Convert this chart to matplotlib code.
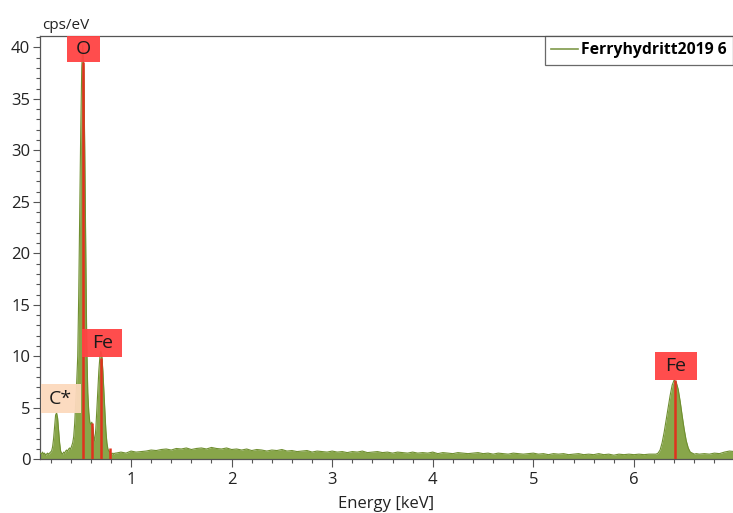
import numpy as np
import matplotlib
matplotlib.use("Agg")
import matplotlib.pyplot as plt
from matplotlib.patches import Rectangle
from matplotlib.lines import Line2D
from matplotlib.ticker import MultipleLocator

plt.rcParams['font.family'] = ['Open Sans', 'DejaVu Sans']

# --- spectrum: energy (keV) and intensity (cps/eV) ---
# low-energy region (C, O, Fe L), 0.01 keV channels
energy_low = np.round(np.arange(0.10, 0.845, 0.01), 2)
counts_low = [
    0.6, 0.5, 0.7, 0.5, 0.6, 0.4, 0.5, 0.6, 0.5, 0.6,      # 0.10-0.19
    0.7, 0.8, 1.2, 2.0, 3.2, 4.3, 4.5, 4.0, 2.8, 1.6,      # 0.20-0.29
    0.8, 0.6, 0.5, 0.7, 0.6, 0.8, 0.9, 0.8, 1.0, 1.1,      # 0.30-0.39
    1.0, 1.3, 1.6, 2.2, 3.5, 5.5, 7.5, 10.0, 16.0, 24.0,   # 0.40-0.49
    32.0, 38.0, 40.2, 38.0, 30.0, 20.0, 11.0, 6.5, 4.6, 3.6,  # 0.50-0.59
    3.4, 3.6, 3.1, 2.2, 1.8, 3.0, 4.8, 6.8, 8.6, 9.9,      # 0.60-0.69
    10.5, 10.0, 8.6, 6.6, 4.6, 2.8, 1.6, 1.0, 0.8, 0.7,    # 0.70-0.79
    0.6, 0.5, 0.6, 0.5, 0.6,                               # 0.80-0.84
]

# continuum, 0.05 keV channels
energy_mid = np.round(np.arange(0.85, 6.16, 0.05), 2)
counts_mid = [
    0.6, 0.7, 0.6, 0.8, 0.7, 0.75, 0.8, 0.9, 0.85, 0.95,
    1.0, 0.9, 1.05, 1.0, 1.1, 0.95, 1.05, 1.1, 1.0, 1.15,
    1.05, 1.0, 1.1, 0.95, 1.0, 0.9, 1.0, 0.85, 0.95, 0.9,
    0.8, 0.9, 0.85, 0.95, 0.8, 0.85, 0.75, 0.8, 0.85, 0.7,
    0.8, 0.75, 0.7, 0.8, 0.7, 0.75, 0.65, 0.75, 0.7, 0.8,
    0.65, 0.7, 0.75, 0.65, 0.7, 0.6, 0.7, 0.65, 0.6, 0.7,
    0.6, 0.65, 0.6, 0.7, 0.55, 0.65, 0.6, 0.55, 0.65, 0.6,
    0.55, 0.6, 0.65, 0.55, 0.6, 0.5, 0.6, 0.55, 0.5, 0.6,
    0.55, 0.5, 0.55, 0.6, 0.5, 0.55, 0.45, 0.55, 0.5, 0.55,
    0.45, 0.5, 0.55, 0.45, 0.5, 0.45, 0.55, 0.45, 0.5, 0.4,
    0.5, 0.45, 0.5, 0.45, 0.5, 0.45, 0.5,
]

# Fe K region, 0.02 keV channels
energy_fek = np.round(np.arange(6.20, 6.625, 0.02), 2)
counts_fek = [
    0.5, 0.5, 0.6, 0.9, 1.6, 2.6, 3.8, 5.0, 6.2, 7.2,
    7.7, 7.5, 6.8, 5.6, 4.2, 2.9, 1.8, 1.1, 0.7, 0.6,
    0.5, 0.55,
]

# high-energy tail, 0.05 keV channels
energy_high = np.round(np.arange(6.65, 7.01, 0.05), 2)
counts_high = [0.5, 0.55, 0.5, 0.6, 0.55, 0.7, 0.8, 0.75]

energy = np.concatenate([energy_low, energy_mid, energy_fek, energy_high])
counts = np.concatenate([counts_low, counts_mid, counts_fek, counts_high])

# element marker lines: energy (keV), height (cps/eV)
line_energy = [0.525, 0.615, 0.705, 0.790, 6.404]
line_height = [38.6, 3.5, 9.8, 1.1, 7.7]

# element labels: text, energy of box centre, value of box centre, colour
label_text = ["O", "Fe", "C*", "Fe"]
label_x = [0.528, 0.715, 0.30, 6.418]
label_y = [39.85, 11.3, 5.9, 9.05]
label_color = ["#ff4343", "#ff4343", "#fcd9bd", "#ff4343"]

series_name = "Ferryhydritt2019 6"

W, H = 733, 513
fig = plt.figure(figsize=(W / 100, H / 100), dpi=100)
ax = fig.add_axes([40 / W, 1 - 459.3 / H, 693 / W, (459.3 - 36) / H])

fill_col = "#88a64a"
edge_col = "#6f8f30"
ax.fill_between(energy, counts, 0, color=fill_col, lw=0, zorder=2)
ax.plot(energy, counts, color=edge_col, lw=0.8, zorder=3)

for e, h in zip(line_energy, line_height):
    ax.plot([e, e], [0, h], color="#e0321e", lw=1.8, zorder=4,
            solid_capstyle="butt")

box_w = [0.33, 0.40, 0.40, 0.42]
box_h = [2.55, 2.75, 2.85, 2.75]
for t, x, y, c, bw, bh in zip(label_text, label_x, label_y, label_color,
                              box_w, box_h):
    ax.add_patch(Rectangle((x - bw / 2, y - bh / 2), bw, bh, facecolor=c,
                           edgecolor="none", alpha=0.95, zorder=5))
    ax.text(x, y, t, ha="center", va="center", fontsize=14,
            color="#1a1a1a", zorder=6)

ax.set_xlim(0.095, 6.985)
ax.set_ylim(0, 41.1)
ax.xaxis.set_major_locator(MultipleLocator(1))
ax.xaxis.set_minor_locator(MultipleLocator(0.2))
ax.yaxis.set_major_locator(MultipleLocator(5))
ax.yaxis.set_minor_locator(MultipleLocator(1))
ax.tick_params(axis="both", which="major", length=5, width=0.8,
               color="#555555", labelsize=12, labelcolor="#222222", pad=2)
ax.tick_params(axis="both", which="minor", length=3, width=0.8,
               color="#555555")
ax.tick_params(axis="x", which="major", length=6, pad=3)

for side in ["left", "top", "bottom"]:
    ax.spines[side].set_color("#555555")
    ax.spines[side].set_linewidth(0.9)
ax.spines["right"].set_visible(False)

ax.text(0.003, 1.008, "cps/eV", transform=ax.transAxes, ha="left",
        va="bottom", fontsize=11, color="#222222")
fig.text(386 / W, 1 - 504 / H, "Energy [keV]", ha="center", va="center",
         fontsize=12, color="#222222")

handle = Line2D([], [], color="#7f9a4a", lw=1.2)
leg = ax.legend([handle], [series_name], loc="upper left",
                bbox_to_anchor=(0.7285, 1.0), borderaxespad=0,
                frameon=True, fancybox=False,
                handlelength=1.7, handletextpad=0.2, borderpad=0.4,
                prop={"weight": "bold", "size": 11.3})
leg.get_frame().set_edgecolor("#444444")
leg.get_frame().set_linewidth(0.9)

fig.savefig("out.png", dpi=100)
